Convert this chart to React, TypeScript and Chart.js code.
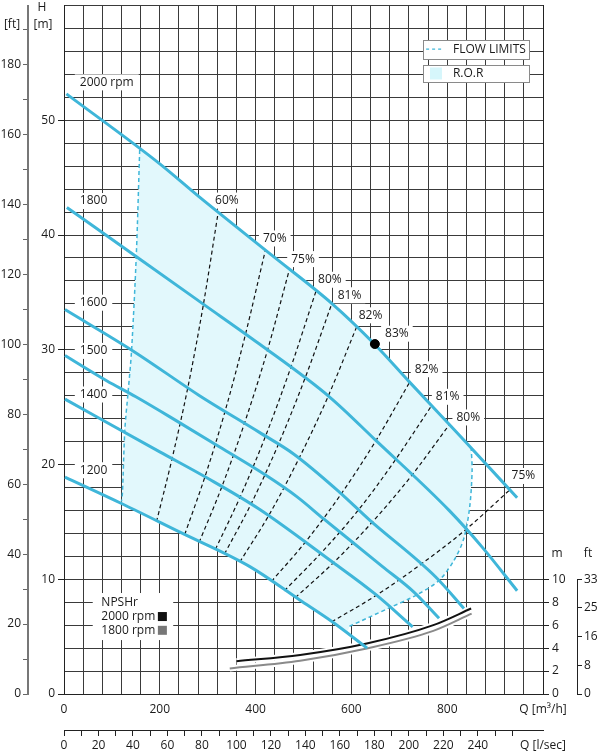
import React, { useEffect, useRef } from "react";
import { Chart, registerables } from "chart.js";
Chart.register(...registerables);

const FONT = '"Open Sans", "DejaVu Sans", Arial, sans-serif';
const TXT = "#1a1a1a";
const BLUE = "#3fb6d9";
const FILL = "#e2f8fc";
const GRID = "#3a3a3a";

// ---- pump curves: Q [m3/h], H [m]
const q2000 = [5, 200, 283, 435, 560, 648, 721, 804, 840, 946];
const h2000 = [52.3, 46.2, 43.3, 38.2, 34.0, 30.5, 27.2, 23.5, 21.9, 17.1];
const q1800 = [6, 155, 290, 408, 554, 651, 804, 873, 946];
const h1800 = [42.4, 38.0, 34.0, 30.5, 25.9, 22.1, 16.0, 12.8, 9.0];
const q1600 = [2, 144, 283, 408, 480, 575, 637, 776, 835];
const h1600 = [33.5, 29.9, 26.0, 22.8, 20.9, 17.6, 15.2, 10.2, 7.45];
const q1500 = [2, 89, 150, 235, 326, 420, 486, 541, 603, 665, 730, 783];
const h1500 = [29.5, 27.3, 25.9, 23.8, 21.5, 19.1, 17.2, 15.3, 13.2, 11.1, 8.9, 6.6];
const q1400 = [2, 200, 300, 408, 554, 650, 728];
const h1400 = [25.7, 21.1, 18.8, 16.1, 11.7, 8.7, 5.85];
const q1200 = [2, 120, 242, 388, 492, 560, 633];
const h1200 = [18.9, 16.6, 14.1, 11.1, 8.2, 6.3, 4.0];

// ---- NPSHr curves
const qNpsh2000 = [360, 493, 632, 771, 850];
const hNpsh2000 = [2.85, 3.4, 4.4, 6.0, 7.45];
const qNpsh1800 = [346, 493, 632, 771, 851];
const hNpsh1800 = [2.23, 2.9, 3.97, 5.5, 7.0];

// ---- flow limits
const qLimitLeft = [158, 151, 141, 134, 127, 122, 120];
const hLimitLeft = [47.4, 38.3, 29.9, 26.4, 23.0, 17.5, 16.8];
const qLimitRight = [596, 679, 735, 783, 815, 835, 847, 852, 850];
const hLimitRight = [5.9, 7.5, 8.6, 9.9, 11.7, 13.6, 16.3, 19.5, 21.5];

// ---- R.O.R region outline
const qRor = [158, 151, 141, 134, 127, 122, 120, 242, 388, 492, 560, 592, 596, 679, 735, 783, 815, 835, 847, 852, 850, 840, 804, 721, 648, 560, 435, 283, 200, 158];
const hRor = [47.4, 38.3, 29.9, 26.4, 23.0, 17.5, 16.6, 14.1, 11.1, 8.2, 6.3, 5.4, 5.9, 7.5, 8.6, 9.9, 11.7, 13.6, 16.3, 19.5, 21.5, 21.9, 23.5, 27.2, 30.5, 34.0, 38.2, 43.3, 46.2, 47.4];

// ---- iso-efficiency lines (from the 1200 rpm curve up to the 2000 rpm curve)
const effLineQ = [
  [193, 225, 258, 290, 322],
  [252, 294, 336, 378, 420],
  [282, 329, 376, 423, 470],
  [316, 368, 421, 473, 526],
  [335, 391, 447, 503, 559],
  [367, 428, 489, 550, 611],
  [433, 505, 578, 650, 722],
  [460, 537, 614, 690, 767],
  [483, 564, 644, 725, 805],
  [559, 652, 745, 838, 931],
];
const effLineH = [
  [15.0, 20.4, 26.6, 33.7, 42.0],
  [13.9, 18.9, 24.6, 31.2, 38.6],
  [13.2, 18.0, 23.5, 29.7, 36.9],
  [12.6, 17.2, 22.5, 28.4, 35.1],
  [12.2, 16.6, 21.7, 27.5, 34.0],
  [11.5, 15.6, 20.4, 25.8, 32.0],
  [9.8, 13.3, 17.4, 22.0, 27.2],
  [9.0, 12.3, 16.0, 20.3, 25.1],
  [8.4, 11.5, 15.0, 19.0, 23.5],
  [6.3, 8.6, 11.3, 14.3, 17.8],
];
const bepQ = [649];
const bepH = [30.5];

// ---- text labels
const rpmNames = ["2000 rpm", "1800", "1600", "1500", "1400", "1200"];
const rpmLabelQ = [33, 33, 33, 33, 33, 33];
const rpmLabelH = [53.3, 42.96, 34.1, 29.9, 26.1, 19.5];
const effLabelText = ["60%", "70%", "75%", "80%", "81%", "82%", "83%", "82%", "81%", "80%", "75%"];
const effLabelQ = [340, 440, 499, 555, 596, 640, 695, 757, 801, 844, 959];
const effLabelH = [43.0, 39.7, 37.9, 36.1, 34.75, 33.0, 31.4, 28.3, 25.9, 24.1, 19.0];
const npshTitle = ["NPSHr", "2000 rpm", "1800 rpm"];
const npshTitleH = [8.0, 6.75, 5.55];

// ---- axes ticks
const xLabelValues = [0, 200, 400, 600, 800, 1000];
const xLabelTexts = ["0", "200", "400", "600", "800", "Q [m³/h]"];
const lsTickValues = [0, 10, 20, 30, 40, 50, 60, 70, 80, 90, 100, 110, 120, 130, 140, 150, 160, 170, 180, 190, 200, 210, 220, 230, 240, 250, 260];
const lsLabelValues = [0, 20, 40, 60, 80, 100, 120, 140, 160, 180, 200, 220, 240];
const yLabelValues = [0, 10, 20, 30, 40, 50];
const ftLabelValues = [0, 20, 40, 60, 80, 100, 120, 140, 160, 180];
const npshMValues = [0, 2, 4, 6, 8, 10];
const npshFtPos = [0, 2.5, 5, 7.5, 10];
const npshFtLabels = ["0", "8", "16", "25", "33"];

const pts = (q: number[], h: number[]) => q.map((v, i) => ({ x: v, y: h[i] }));

const overlayPlugin = {
  id: "overlay",
  beforeDatasetsDraw(chart: any) {
    const { ctx } = chart;
    const x = chart.scales.x, y = chart.scales.y;
    const px = (q: number) => x.getPixelForValue(q);
    const py = (h: number) => y.getPixelForValue(h);
    ctx.save();
    ctx.font = `12px ${FONT}`;
    ctx.fillStyle = "#fff";
    rpmNames.forEach((t, i) => {
      const w = ctx.measureText(t).width;
      ctx.fillRect(px(rpmLabelQ[i]) - 5, py(rpmLabelH[i]) - 8, w + 10, 16);
    });
    effLabelText.forEach((t, i) => {
      const w = ctx.measureText(t).width;
      ctx.fillRect(px(effLabelQ[i]) - w / 2 - 4, py(effLabelH[i]) - 8, w + 8, 16);
    });
    ctx.fillRect(px(60), py(8.8), px(228) - px(60), py(4.7) - py(8.8));
    ctx.restore();
  },
  afterDatasetsDraw(chart: any) {
    const { ctx } = chart;
    const x = chart.scales.x, y = chart.scales.y;
    const px = (q: number) => x.getPixelForValue(q);
    const py = (h: number) => y.getPixelForValue(h);
    ctx.save();
    ctx.font = `12px ${FONT}`;
    ctx.fillStyle = TXT;
    ctx.textBaseline = "middle";
    ctx.textAlign = "left";
    rpmNames.forEach((t, i) => ctx.fillText(t, px(rpmLabelQ[i]), py(rpmLabelH[i])));
    ctx.textAlign = "center";
    effLabelText.forEach((t, i) => ctx.fillText(t, px(effLabelQ[i]), py(effLabelH[i])));
    // NPSHr legend
    ctx.textAlign = "left";
    npshTitle.forEach((t, i) => ctx.fillText(t, px(78), py(npshTitleH[i])));
    ctx.fillStyle = "#111";
    ctx.fillRect(px(196), py(npshTitleH[1]) - 4.5, 9, 9);
    ctx.fillStyle = "#777";
    ctx.fillRect(px(196), py(npshTitleH[2]) - 4.5, 9, 9);

    // legend boxes
    const bx0 = Math.round(px(750)) + 0.5, bx1 = Math.round(px(971)) + 0.5;
    const boxes = [[57.0, 55.35], [54.85, 53.3]];
    boxes.forEach(([h0, h1]) => {
      const t = Math.round(py(h0)) + 0.5, b = Math.round(py(h1)) + 0.5;
      ctx.fillStyle = "#fff";
      ctx.fillRect(bx0, t, bx1 - bx0, b - t);
      ctx.strokeStyle = "#8a8a8a";
      ctx.lineWidth = 1;
      ctx.strokeRect(bx0, t, bx1 - bx0, b - t);
    });
    ctx.strokeStyle = BLUE;
    ctx.lineWidth = 1.2;
    ctx.setLineDash([3, 3]);
    ctx.beginPath();
    const ly = py(56.2);
    ctx.moveTo(px(756), ly);
    ctx.lineTo(px(792), ly);
    ctx.stroke();
    ctx.setLineDash([]);
    ctx.fillStyle = "#d6f6fb";
    ctx.fillRect(px(764), py(54.6), 12, 12);
    ctx.fillStyle = TXT;
    ctx.fillText("FLOW LIMITS", px(812), py(56.2));
    ctx.fillText("R.O.R", px(812), py(54.05));

    // axis titles
    ctx.textAlign = "center";
    ctx.fillText("H", 42, 8);
    ctx.fillText("[m]", 43, 25);
    ctx.fillText("[ft]", 12, 25);
    const yR = chart.scales.yR, yftR = chart.scales.yftR;
    ctx.fillText("m", yR.left + 14, py(12.25));
    ctx.fillText("ft", yftR.left + 11, py(12.25));

    // short ft border on the right
    ctx.strokeStyle = "#222";
    ctx.lineWidth = 1;
    const lx = Math.round(yftR.left) + 0.5;
    ctx.beginPath();
    ctx.moveTo(lx, yftR.getPixelForValue(0));
    ctx.lineTo(lx, yftR.getPixelForValue(10));
    ctx.stroke();
    ctx.restore();
  },
};

export default function App() {
  const ref = useRef<HTMLCanvasElement>(null);
  useEffect(() => {
    if (!ref.current) return;
    Chart.defaults.font.family = FONT;
    Chart.defaults.font.size = 12;
    Chart.defaults.color = TXT;

    const smooth = { cubicInterpolationMode: "monotone", pointRadius: 0, fill: false };
    const curve = (q: number[], h: number[]) => ({ data: pts(q, h), borderColor: BLUE, borderWidth: 3, ...smooth });
    const datasets: any[] = [];
    datasets.push({ data: pts(bepQ, bepH), showLine: false, pointRadius: 4.5, pointBackgroundColor: "#000", pointBorderColor: "#000" });
    datasets.push(curve(q2000, h2000));
    datasets.push(curve(q1800, h1800));
    datasets.push(curve(q1600, h1600));
    datasets.push(curve(q1500, h1500));
    datasets.push(curve(q1400, h1400));
    datasets.push(curve(q1200, h1200));
    datasets.push({ data: pts(qNpsh2000, hNpsh2000), borderColor: "#111", borderWidth: 2, ...smooth });
    datasets.push({ data: pts(qNpsh1800, hNpsh1800), borderColor: "#8a8a8a", borderWidth: 2, ...smooth });
    datasets.push({ data: pts(qNpsh2000, hNpsh2000), borderColor: "#fff", borderWidth: 6, ...smooth });
    datasets.push({ data: pts(qNpsh1800, hNpsh1800), borderColor: "#fff", borderWidth: 6, ...smooth });
    effLineQ.forEach((q, i) => {
      datasets.push({ data: pts(q, effLineH[i]), borderColor: "#111", borderWidth: 1.2, borderDash: [4, 3], ...smooth });
    });
    datasets.push({ data: pts(qLimitLeft, hLimitLeft), borderColor: BLUE, borderWidth: 1.5, borderDash: [4, 3], tension: 0.3, pointRadius: 0, fill: false });
    datasets.push({ data: pts(qLimitRight, hLimitRight), borderColor: BLUE, borderWidth: 1.5, borderDash: [4, 3], tension: 0.3, pointRadius: 0, fill: false });
    datasets.push({ data: pts(qRor, hRor), borderColor: "rgba(0,0,0,0)", borderWidth: 1, backgroundColor: FILL, fill: "shape", tension: 0, pointRadius: 0 });

    const vPad = (s: any, w: number) => { s.width = w; s.paddingTop = 5; s.paddingBottom = 0; };
    const hPad = (s: any, h: number) => { s.height = h; s.paddingLeft = 0; s.paddingRight = 0; };

    const chart = new Chart(ref.current, {
      type: "line",
      data: { datasets },
      plugins: [overlayPlugin],
      options: {
        animation: false,
        responsive: false,
        devicePixelRatio: 1,
        events: [],
        layout: { padding: 0 },
        plugins: { legend: { display: false }, tooltip: { enabled: false } },
        elements: { point: { radius: 0 } },
        scales: {
          x: {
            axis: "x", type: "linear", position: "bottom", weight: 0, min: 0, max: 1000,
            afterFit: (s: any) => hPad(s, 36),
            ticks: {
              stepSize: 40, autoSkip: false, maxRotation: 0, padding: 8,
              callback: (v: any) => { const k = xLabelValues.indexOf(Number(v)); return k >= 0 ? xLabelTexts[k] : ""; },
            },
            grid: { color: GRID, lineWidth: 1, drawTicks: false },
            border: { color: "#222", width: 1 },
          },
          x2: {
            axis: "x", type: "linear", position: "bottom", weight: 1, min: 0, max: 1000 / 3.6,
            afterFit: (s: any) => hPad(s, 22),
            afterBuildTicks: (s: any) => { s.ticks = lsTickValues.map((v) => ({ value: v })).concat([{ value: 1000 / 3.6 }]); },
            ticks: {
              autoSkip: false, maxRotation: 0, padding: 2,
              callback: (v: any) => { const n = Number(v); if (n > 270) return "Q [l/sec]"; return lsLabelValues.includes(n) ? String(n) : ""; },
            },
            grid: { drawOnChartArea: false, tickLength: 6, tickColor: (c: any) => (c.tick && c.tick.value > 270 ? "rgba(0,0,0,0)" : "#222") },
            border: { color: "#222", width: 1 },
          },
          y: {
            axis: "y", type: "linear", position: "left", weight: 0, min: 0, max: 60,
            afterFit: (s: any) => vPad(s, 36),
            ticks: { stepSize: 2, autoSkip: false, padding: 3, callback: (v: any) => (yLabelValues.includes(Number(v)) ? String(v) : "") },
            grid: { color: GRID, lineWidth: 1, tickLength: 6, tickColor: (c: any) => (c.tick && yLabelValues.includes(c.tick.value) ? "#222" : "rgba(0,0,0,0)") },
            border: { color: "#222", width: 1 },
          },
          yft: {
            axis: "y", type: "linear", position: "left", weight: 1, min: 0, max: 60 / 0.3048,
            afterFit: (s: any) => vPad(s, 28),
            ticks: { stepSize: 10, includeBounds: false, autoSkip: false, padding: 2, callback: (v: any) => (ftLabelValues.includes(Number(v)) ? String(v) : "") },
            grid: { drawOnChartArea: false, tickLength: 5, color: "#666", tickColor: "#666" },
            border: { color: "#777", width: 2 },
          },
          yR: {
            axis: "y", type: "linear", position: "right", weight: 0, min: 0, max: 60,
            afterFit: (s: any) => vPad(s, 34),
            afterBuildTicks: (s: any) => { s.ticks = npshMValues.map((v) => ({ value: v })); },
            ticks: { autoSkip: false, padding: 3, callback: (v: any) => String(v) },
            grid: { drawOnChartArea: false, tickLength: 6, tickColor: "#222" },
            border: { color: "#222", width: 1 },
          },
          yftR: {
            axis: "y", type: "linear", position: "right", weight: 1, min: 0, max: 60,
            afterFit: (s: any) => vPad(s, 23),
            afterBuildTicks: (s: any) => { s.ticks = npshFtPos.map((v) => ({ value: v })); },
            ticks: { autoSkip: false, padding: 2, callback: (_v: any, i: number) => npshFtLabels[i] },
            grid: { drawOnChartArea: false, tickLength: 5, tickColor: "#222" },
            border: { display: false },
          },
        },
      } as any,
    });
    return () => chart.destroy();
  }, []);
  return (
    <div style={{ position: "fixed", left: 0, top: 0, width: 600, height: 752, background: "#fff" }}>
      <canvas ref={ref} width={600} height={752} style={{ display: "block" }} />
    </div>
  );
}
